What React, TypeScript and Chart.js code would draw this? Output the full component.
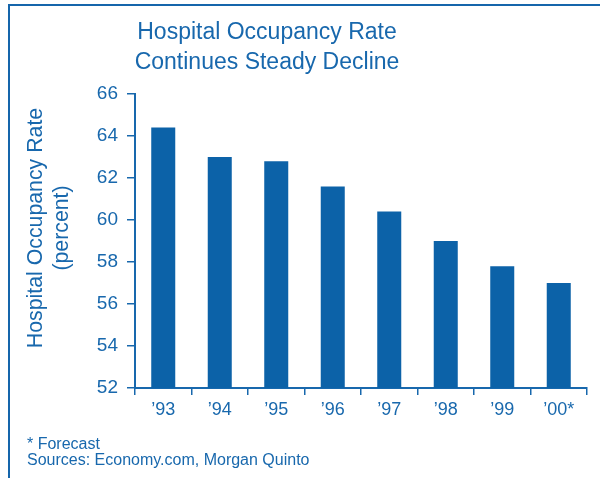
import React, { useEffect, useRef } from "react";
import { Chart, registerables } from "chart.js";

Chart.register(...registerables);

const categories = ["\u201993", "\u201994", "\u201995", "\u201996", "\u201997", "\u201998", "\u201999", "\u201900*"];
const occupancy = [64.4, 63.0, 62.8, 61.6, 60.4, 59.0, 57.8, 57.0];
const titleLines = ["Hospital Occupancy Rate", "Continues Steady Decline"];
const yTitleLines = ["Hospital Occupancy Rate", "(percent)"];
const footnotes = ["* Forecast", "Sources: Economy.com, Morgan Quinto"];
const yMin = 52;
const yMax = 66;
const yStep = 2;

const TEXT = "#1868ad";
const BAR = "#0c62a8";
const FONT = "'Liberation Sans', Arial, Helvetica, sans-serif";

const decorPlugin = {
  id: "decor",
  beforeDraw(chart: any) {
    const ctx = chart.ctx;
    ctx.save();
    ctx.strokeStyle = "#1565ab";
    ctx.lineWidth = 2;
    ctx.beginPath();
    ctx.moveTo(9, 478);
    ctx.lineTo(9, 5);
    ctx.lineTo(600, 5);
    ctx.stroke();
    ctx.restore();
  },
  afterDraw(chart: any) {
    const ctx = chart.ctx;
    ctx.save();
    ctx.fillStyle = TEXT;
    ctx.font = `23px ${FONT}`;
    ctx.textAlign = "center";
    ctx.textBaseline = "alphabetic";
    ctx.fillText(titleLines[0], 267, 39);
    ctx.fillText(titleLines[1], 267, 69);
    ctx.save();
    ctx.translate(0, 228);
    ctx.rotate(-Math.PI / 2);
    ctx.font = `21.3px ${FONT}`;
    ctx.textAlign = "center";
    ctx.textBaseline = "middle";
    ctx.fillText(yTitleLines[0], 0, 36);
    ctx.fillText(yTitleLines[1], 0, 62);
    ctx.restore();
    ctx.font = `16px ${FONT}`;
    ctx.textAlign = "left";
    ctx.textBaseline = "alphabetic";
    ctx.fillText(footnotes[0], 27, 449);
    ctx.fillText(footnotes[1], 27, 465);
    ctx.restore();
  },
};

export default function App() {
  const ref = useRef<HTMLCanvasElement | null>(null);
  useEffect(() => {
    if (!ref.current) return;
    const chart = new Chart(ref.current, {
      type: "bar",
      data: {
        labels: categories,
        datasets: [
          {
            data: occupancy,
            backgroundColor: BAR,
            borderWidth: 0,
            barPercentage: 0.425,
            categoryPercentage: 1,
          },
        ],
      },
      options: {
        responsive: false,
        animation: false,
        devicePixelRatio: 1,
        layout: { padding: { top: 94, right: 13, left: 0, bottom: 0 } },
        plugins: {
          legend: { display: false },
          tooltip: { enabled: false },
          title: { display: false },
        },
        scales: {
          x: {
            afterFit: (s: any) => {
              s.height = 90;
            },
            grid: {
              display: true,
              offset: true,
              drawOnChartArea: false,
              drawTicks: true,
              tickLength: 7,
              color: TEXT,
              lineWidth: 1.5,
            },
            border: { display: true, color: TEXT, width: 2 },
            ticks: {
              color: TEXT,
              font: { family: FONT, size: 18 },
              padding: 4,
              maxRotation: 0,
              autoSkip: false,
            },
          },
          y: {
            min: yMin,
            max: yMax,
            afterFit: (s: any) => {
              s.width = 135;
            },
            grid: {
              display: true,
              drawOnChartArea: false,
              drawTicks: true,
              tickLength: 8,
              color: TEXT,
              lineWidth: 1.5,
            },
            border: { display: true, color: TEXT, width: 2 },
            ticks: {
              stepSize: yStep,
              color: TEXT,
              font: { family: FONT, size: 19 },
              padding: 9,
            },
          },
        },
      },
      plugins: [decorPlugin],
    });
    return () => chart.destroy();
  }, []);
  return (
    <div style={{ position: "fixed", left: 0, top: 0, width: 600, height: 478, background: "#fff" }}>
      <canvas ref={ref} width={600} height={478} style={{ width: 600, height: 478, display: "block" }} />
    </div>
  );
}
